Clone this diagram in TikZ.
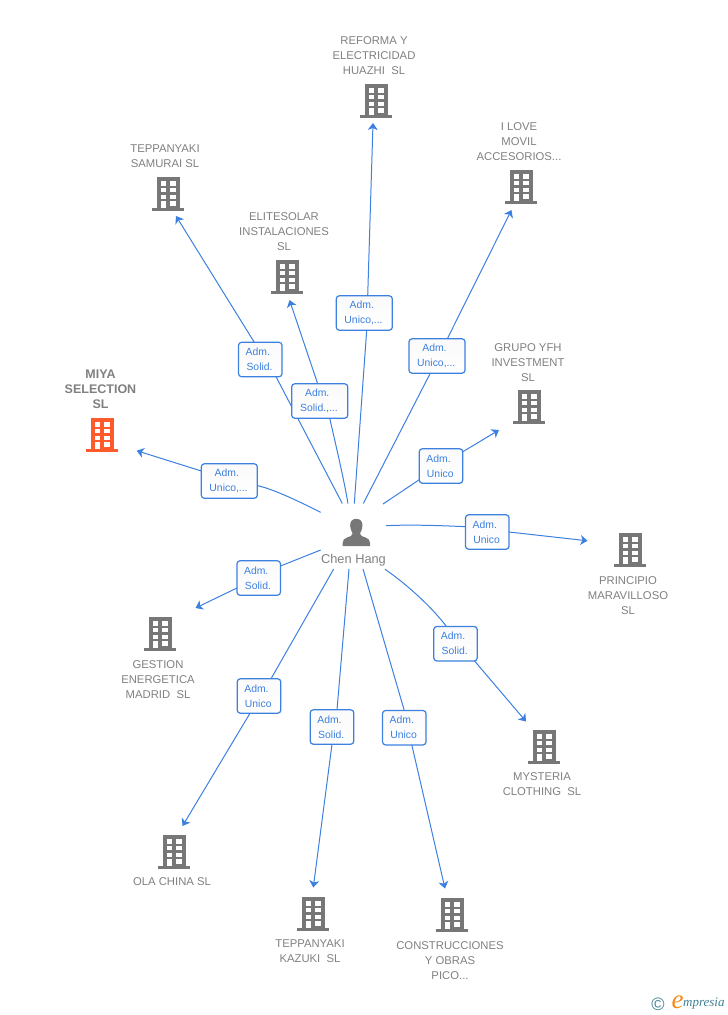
\documentclass[tikz,border=0pt]{standalone}
\usepackage{fontspec}
\setmainfont{Liberation Sans}
\newfontfamily\logofont{Liberation Serif}
\usetikzlibrary{arrows.meta}
\definecolor{edgeblue}{HTML}{3C80E0}
\definecolor{labelgray}{HTML}{808080}
\definecolor{iconGray}{HTML}{777777}
\definecolor{iconOrange}{HTML}{FF5A2B}
\definecolor{logoTeal}{HTML}{3F7F95}
\definecolor{logoOrange}{HTML}{F28C1E}
\definecolor{boxTop}{HTML}{FAFAFA}
\newcommand\rolelines[2]{#1\hspace*{5pt}\\#2\hspace*{1.5pt}}
\tikzset{
  x=1pt,y=-1pt,
  company/.style={text=labelgray,font=\fontsize{11.3}{15}\selectfont,align=center,inner sep=0pt},
  rolebox/.style={draw=edgeblue,line width=1.2pt,rounded corners=3pt,top color=boxTop,bottom color=white,text=edgeblue,
    font=\fontsize{10.4}{15}\selectfont,align=center,minimum width=43.5pt,minimum height=34.4pt,inner sep=0pt,outer sep=0pt},
  widebox/.style={rolebox,minimum width=56pt},
  edge/.style={edgeblue,line width=1pt},
  arrowedge/.style={edge,-{Stealth[length=7pt,width=10pt,inset=2pt]}},
  building/.pic={
    \fill[pic actions] (-11,-16.7) rectangle (11.5,14.5);
    \fill[pic actions] (-15.7,14) rectangle (15.7,17.3);
    \foreach \py/\ph in {-13.3/5,-6/4.4,1/4.2}{
      \fill[white] (-7.3,\py) rectangle (-1.7,{\py+\ph});
      \fill[white] (2.3,\py) rectangle (8,{\py+\ph});
    }
    \fill[white] (2.3,7.3) rectangle (8,11.7);
    \fill[white] (-7.3,7.3) rectangle (-1.7,14);
  }
}
\begin{document}
\begin{tikzpicture}
\useasboundingbox (0,0) rectangle (728,1015);
% buildings
\pic[fill=iconGray] (bReforma) at (376,101) {building};
\pic[fill=iconGray] (bLove) at (521,187) {building};
\pic[fill=iconGray] (bGrupo) at (529,407) {building};
\pic[fill=iconGray] (bPrincipio) at (630,550) {building};
\pic[fill=iconGray] (bMysteria) at (544,747) {building};
\pic[fill=iconGray] (bConstr) at (452,915) {building};
\pic[fill=iconGray] (bKazuki) at (313,914) {building};
\pic[fill=iconGray] (bOla) at (174,852) {building};
\pic[fill=iconGray] (bGestion) at (160,634) {building};
\pic[fill=iconOrange] (bMiya) at (102,435) {building};
\pic[fill=iconGray] (bElite) at (287,277) {building};
\pic[fill=iconGray] (bSamurai) at (168,194) {building};
% company names
\node[company] (nReforma) at (374,56) {REFORMA Y\\ELECTRICIDAD\\HUAZHI~~SL};
\node[company] (nLove) at (519,142) {I LOVE\\MOVIL\\ACCESORIOS...};
\node[company] (nGrupo) at (528,363) {GRUPO YFH\\INVESTMENT\\SL};
\node[company] (nPrincipio) at (628,596) {PRINCIPIO\\MARAVILLOSO\\SL};
\node[company] (nMysteria) at (542,784.5) {MYSTERIA\\CLOTHING~~SL};
\node[company] (nConstr) at (450,961) {CONSTRUCCIONES\\Y OBRAS\\PICO...};
\node[company] (nKazuki) at (310,951.5) {TEPPANYAKI\\KAZUKI~~SL};
\node[company] (nOla) at (172,881.5) {OLA CHINA SL};
\node[company] (nGestion) at (158,680) {GESTION\\ENERGETICA\\MADRID~~SL};
\node[company,font=\fontsize{12.5}{15}\selectfont\bfseries] (nMiya) at (100.5,389) {MIYA\\SELECTION\\SL};
\node[company] (nElite) at (284,232) {ELITESOLAR\\INSTALACIONES\\SL};
\node[company] (nSamurai) at (165,156.5) {TEPPANYAKI\\SAMURAI SL};
% person
\fill[iconGray] (356.3,518.8) .. controls (351.5,518.8) and (349.8,522.5) .. (350.2,526)
  .. controls (350.6,530) and (352,532) .. (352.6,533.5)
  .. controls (352.6,536) and (350,536.5) .. (347,537.5)
  .. controls (344,538.5) and (342.7,540) .. (342.7,543) -- (342.7,546) -- (370,546) -- (370,543)
  .. controls (370,540) and (368.5,538.5) .. (365.5,537.5)
  .. controls (362.5,536.5) and (360,536) .. (360,533.5)
  .. controls (360.6,532) and (362,530) .. (362.4,526)
  .. controls (362.8,522.5) and (361,518.8) .. (356.3,518.8) -- cycle;
\node[text=labelgray,font=\fontsize{12.8}{14}\selectfont,inner sep=0pt] (person) at (353.5,560) {Chen Hang};
% free ends near the person
\coordinate (s1) at (320.7,512.3);
\coordinate (s2) at (342.3,503.5);
\coordinate (s3) at (348,503.5);
\coordinate (s4) at (354.3,503.5);
\coordinate (s5) at (363.3,503.5);
\coordinate (s6) at (383,504);
\coordinate (s7) at (386,525.7);
\coordinate (s8) at (385,569.3);
\coordinate (s9) at (363,569);
\coordinate (s10) at (349,569);
\coordinate (s11) at (333.7,569);
\coordinate (s12) at (320.7,550);
% free ends by the companies
\coordinate (t1) at (136.7,450.7);
\coordinate (t2) at (176,216);
\coordinate (t3) at (289.5,300);
\coordinate (t4) at (373,123);
\coordinate (t5) at (511.5,210);
\coordinate (t6) at (499,430);
\coordinate (t7) at (587.5,540.8);
\coordinate (t8) at (526,721.5);
\coordinate (t9) at (445,888.5);
\coordinate (t10) at (313.3,887.5);
\coordinate (t11) at (182.5,826);
\coordinate (t12) at (195.5,608);
% role boxes and connectors; the second one runs behind the third box
\node[rolebox] (r2) at (260.3,359.5) {\rolelines{Adm.}{Solid.}};
\draw[edge] (s2) -- ([xshift=15.7pt]r2.south);
\draw[arrowedge] ([xshift=-6pt]r2.north) -- (t2);
\node[widebox] (r1) at (229.3,481) {\rolelines{Adm.}{Unico,...}};
\node[widebox] (r3) at (319.7,401) {\rolelines{Adm.}{Solid.,...}};
\node[widebox] (r4) at (364.3,313) {\rolelines{Adm.}{Unico,...}};
\node[widebox] (r5) at (437,356) {\rolelines{Adm.}{Unico,...}};
\node[rolebox] (r6) at (441,466) {\rolelines{Adm.}{Unico}};
\node[rolebox] (r7) at (487.3,532) {\rolelines{Adm.}{Unico}};
\node[rolebox] (r8) at (455.5,643.7) {\rolelines{Adm.}{Solid.}};
\node[rolebox] (r9) at (404.3,727.7) {\rolelines{Adm.}{Unico}};
\node[rolebox] (r10) at (332,727) {\rolelines{Adm.}{Solid.}};
\node[rolebox] (r11) at (259,696) {\rolelines{Adm.}{Unico}};
\node[rolebox] (r12) at (258.7,578) {\rolelines{Adm.}{Solid.}};
% connectors
\draw[edge] (s1) .. controls (302,503) and (276,490) .. ([yshift=-4.5pt]r1.east);
\draw[edge] (s3) .. controls (344,480) and (337,450) .. ([xshift=10pt]r3.south);
\draw[edge] (s4) -- ([xshift=2.4pt]r4.south);
\draw[edge] (s5) -- ([xshift=-6.7pt]r5.south);
\draw[edge] (s6) -- ([yshift=3.5pt]r6.south west);
\draw[edge] (s7) .. controls (410,524.5) and (440,525.5) .. ([yshift=5.3pt]r7.west);
\draw[edge] (s8) .. controls (405,583) and (430,605) .. ([xshift=-9pt]r8.north);
\draw[edge] (s9) -- (r9.north);
\draw[edge] (s10) -- ([xshift=5pt]r10.north);
\draw[edge] (s11) -- ([xshift=12pt]r11.north);
\draw[edge] (s12) -- ([yshift=12pt]r12.east);
\draw[arrowedge] ([yshift=10pt]r1.west) -- (t1);
\draw[arrowedge] ([xshift=-2pt]r3.north) -- (t3);
\draw[arrowedge] ([xshift=3.4pt]r4.north) -- (t4);
\draw[arrowedge] ([xshift=10.3pt]r5.north) -- (t5);
\draw[arrowedge] ([yshift=-3pt]r6.north east) -- (t6);
\draw[arrowedge] (r7.east) -- (t7);
\draw[arrowedge] ([xshift=19pt]r8.south) -- (t8);
\draw[arrowedge] ([xshift=7.5pt]r9.south) -- (t9);
\draw[arrowedge] (r10.south) -- (t10);
\draw[arrowedge] ([xshift=-9pt]r11.south) -- (t11);
\draw[arrowedge] ([yshift=-10pt]r12.west) -- (t12);
% logo
\node[inner sep=0pt,text=logoTeal,font=\fontsize{18}{18}\selectfont] (copyr) at (658,1004) {©};
\node[inner sep=0pt,text=logoOrange,font=\logofont\fontsize{27}{27}\selectfont\itshape] (logoE) at (677.5,1002.5) {e};
\node[inner sep=0pt,anchor=west,text=logoTeal,font=\logofont\fontsize{13}{14}\selectfont\itshape] (logoT) at (683,1004) {mpresia};
\end{tikzpicture}
\end{document}
